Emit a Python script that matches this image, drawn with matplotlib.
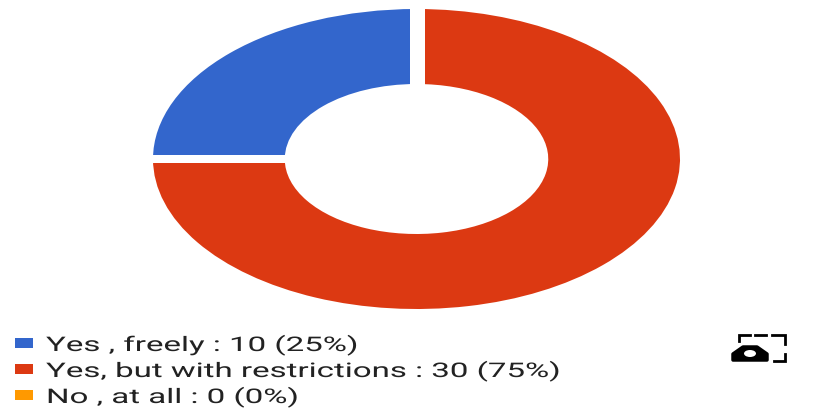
import numpy as np
from matplotlib import pyplot as plt
from matplotlib.patches import Ellipse, Polygon, Rectangle
from matplotlib.patheffects import AbstractPathEffect
from matplotlib.transforms import Affine2D

W, H = 833, 410

labels = ['Yes , freely', 'Yes, but with restrictions', 'No , at all']
values = [10, 30, 0]
percents = [25, 75, 0]
colors = ['#3366CC', '#DC3912', '#FF9900']

plt.rcParams['font.family'] = ['Roboto', 'DejaVu Sans']


class StretchX(AbstractPathEffect):
    """Widen glyphs horizontally around a fixed display x"""

    def __init__(self, x0, factor):
        super().__init__()
        self.x0 = x0
        self.factor = factor

    def draw_path(self, renderer, gc, tpath, affine, rgbFace=None):
        stretch = Affine2D().translate(-self.x0, 0).scale(self.factor, 1).translate(self.x0, 0)
        renderer.draw_path(gc, tpath, affine + stretch, rgbFace)


fig = plt.figure(figsize=(W / 100, H / 100), dpi=100, facecolor='white')

# donut is stretched wider than tall, so it gets its own axes box
left, right, top, bottom = 153, 680, 10, 310
ax = fig.add_axes([left / W, 1 - bottom / H, (right - left) / W, (bottom - top) / H])
ax.pie(values, colors=colors, startangle=90, radius=1, wedgeprops={'width': 0.5, 'linewidth': 0})
ax.set_xlim(-1, 1)
ax.set_ylim(-1, 1)
ax.set_aspect('auto')
ax.axis('off')

# white separators between the slices
angle = 90
for v in values[:-1]:
    rad = np.deg2rad(angle)
    gap = 15 if abs(np.cos(rad)) < 0.5 else 8
    ax.plot([0, np.cos(rad) * 1.02], [0, np.sin(rad) * 1.02], color='white', lw=gap * 0.72,
            solid_capstyle='butt', clip_on=False)
    angle += 360 * v / sum(values)

# everything below the donut is laid out in pixels
ov = fig.add_axes([0, 0, 1, 1])
ov.set_xlim(0, W)
ov.set_ylim(H, 0)
ov.axis('off')

for i, (lab, v, p, c) in enumerate(zip(labels, values, percents, colors)):
    y = 344 + i * 26
    ov.add_patch(Rectangle((15, y - 5), 18, 10, color=c, lw=0))
    t = ov.text(46, y + 8, f'{lab} : {v} ({p}%)', fontsize=14.5, color='#222222', va='baseline', ha='left')
    t.set_path_effects([StretchX(46, 1.64)])

# small camera icon with a dashed frame
frame = [([739, 739, 750], [342, 336, 336]),
         ([755, 766], [336, 336]),
         ([772, 785, 785], [336, 336, 345]),
         ([785, 785, 774], [355, 362, 362])]
for xs, ys in frame:
    ov.plot(xs, ys, color='black', lw=2, solid_joinstyle='miter')
ov.add_patch(Polygon([(733, 361), (733, 355), (743, 348), (757, 348), (767, 355), (767, 361)],
                     closed=True, facecolor='black', edgecolor='black', lw=2.5, joinstyle='round'))
ov.add_patch(Ellipse((750, 354.5), 12, 7, color='white', lw=0))

fig.savefig('out.png', dpi=100)
